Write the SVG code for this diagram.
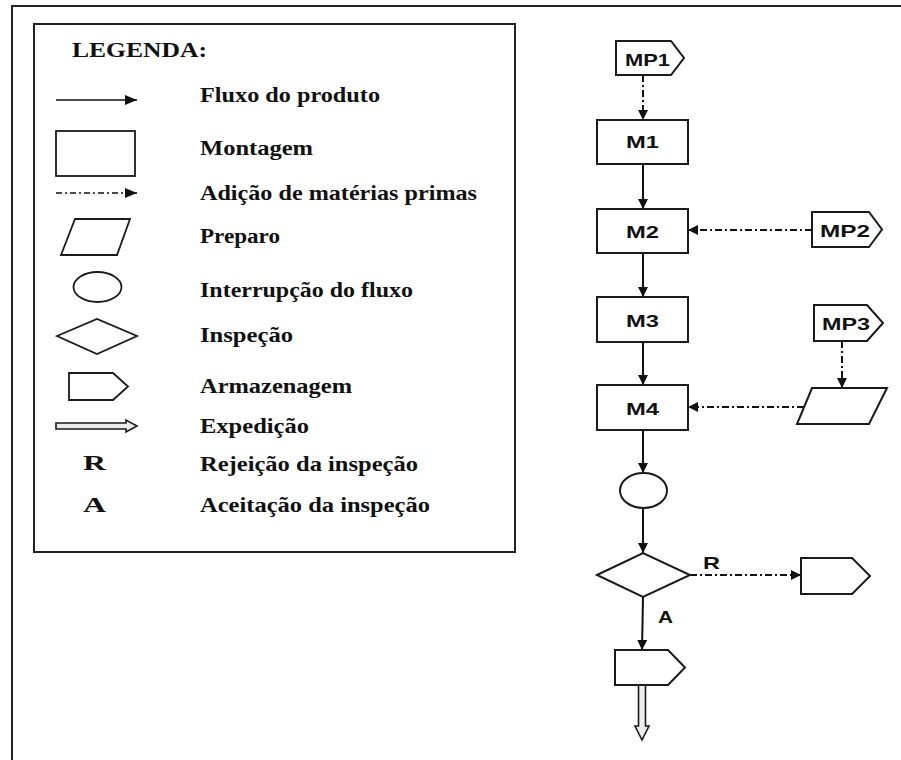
<svg xmlns="http://www.w3.org/2000/svg" width="901" height="760" viewBox="0 0 901 760">
<style>
.frame{fill:none;stroke:#222;stroke-width:2}
.shape{fill:#fff;stroke:#1a1a1a;stroke-width:2}
.lshape{fill:#fff;stroke:#1a1a1a;stroke-width:1.8}
.solid{fill:none;stroke:#111;stroke-width:2}
.dash{fill:none;stroke:#111;stroke-width:2;stroke-dasharray:7 3 2 3}
.lsolid{fill:none;stroke:#111;stroke-width:1.7}
.ldash{fill:none;stroke:#111;stroke-width:1.5;stroke-dasharray:6 3 2 3}
.exp{fill:#ececec;stroke:#1a1a1a;stroke-width:1.6}
.leg{font-family:"Liberation Serif","Times New Roman",serif;font-weight:bold;font-size:22px;fill:#111}
.lbl{font-family:"Liberation Sans",Arial,sans-serif;font-weight:bold;font-size:17px;fill:#111}
</style>
<defs>
<marker id="ah" viewBox="0 0 10 10" refX="10" refY="5" markerWidth="10" markerHeight="10" markerUnits="userSpaceOnUse" orient="auto">
<path d="M0,0 L10,5 L0,10 z" fill="#111"/>
</marker>
<marker id="ahl" viewBox="0 0 12 10" refX="12" refY="5" markerWidth="13" markerHeight="10" markerUnits="userSpaceOnUse" orient="auto">
<path d="M0,0 L12,5 L0,10 z" fill="#111"/>
</marker>
</defs>
<rect width="901" height="760" fill="#fff"/>
<path class="frame" d="M12,762 V6 H903"/>

<g id="legend">
<rect class="frame" x="34" y="24" width="481" height="528"/>
<text class="leg" x="72" y="57" textLength="135" lengthAdjust="spacingAndGlyphs">LEGENDA:</text>
<line class="lsolid" x1="56" y1="100" x2="137" y2="100" marker-end="url(#ahl)"/>
<text class="leg" x="200" y="102" textLength="180" lengthAdjust="spacingAndGlyphs">Fluxo do produto</text>
<rect class="lshape" x="56" y="131" width="79" height="45"/>
<text class="leg" x="200" y="155" textLength="113" lengthAdjust="spacingAndGlyphs">Montagem</text>
<line class="ldash" x1="56" y1="193" x2="137" y2="193" marker-end="url(#ahl)"/>
<text class="leg" x="200" y="200" textLength="277" lengthAdjust="spacingAndGlyphs">Adição de matérias primas</text>
<polygon class="lshape" points="75,219 130,219 117,255 61,255"/>
<text class="leg" x="200" y="243" textLength="80" lengthAdjust="spacingAndGlyphs">Preparo</text>
<ellipse class="lshape" cx="97.5" cy="287" rx="24" ry="15"/>
<text class="leg" x="200" y="297" textLength="213" lengthAdjust="spacingAndGlyphs">Interrupção do fluxo</text>
<polygon class="lshape" points="57,336 97,319 137,336 97,354"/>
<text class="leg" x="200" y="342" textLength="93" lengthAdjust="spacingAndGlyphs">Inspeção</text>
<path class="lshape" d="M69,373 H113 L128,386.5 L113,400 H69 Z"/>
<text class="leg" x="200" y="393" textLength="152" lengthAdjust="spacingAndGlyphs">Armazenagem</text>
<polygon class="exp" points="56,423 126,423 126,420 137,426 126,432 126,429 56,429"/>
<text class="leg" x="200" y="433" textLength="109" lengthAdjust="spacingAndGlyphs">Expedição</text>
<text class="leg" x="83" y="470" font-size="23" textLength="23" lengthAdjust="spacingAndGlyphs">R</text>
<text class="leg" x="200" y="471" textLength="218" lengthAdjust="spacingAndGlyphs">Rejeição da inspeção</text>
<text class="leg" x="83" y="512" font-size="23" textLength="23" lengthAdjust="spacingAndGlyphs">A</text>
<text class="leg" x="200" y="512" textLength="230" lengthAdjust="spacingAndGlyphs">Aceitação da inspeção</text>
</g>

<g id="connectors">
<line class="dash" x1="643" y1="75" x2="643" y2="120" marker-end="url(#ah)"/>
<line class="solid" x1="643" y1="164" x2="643" y2="209" marker-end="url(#ah)"/>
<line class="dash" x1="812" y1="230" x2="688" y2="230" marker-end="url(#ah)"/>
<line class="solid" x1="643" y1="253" x2="643" y2="297" marker-end="url(#ah)"/>
<line class="solid" x1="643" y1="342" x2="643" y2="385" marker-end="url(#ah)"/>
<line class="dash" x1="842" y1="341" x2="842" y2="388" marker-end="url(#ah)"/>
<line class="dash" x1="804" y1="407" x2="688" y2="407" marker-end="url(#ah)"/>
<line class="solid" x1="643" y1="430" x2="643" y2="473" marker-end="url(#ah)"/>
<line class="solid" x1="643" y1="508" x2="643" y2="553" marker-end="url(#ah)"/>
<line class="dash" x1="690" y1="575" x2="801" y2="575" marker-end="url(#ah)"/>
<line class="solid" x1="643" y1="597" x2="642" y2="650" marker-end="url(#ah)"/>
<polygon class="exp" points="638.5,685 638.5,726 635,726 642,740 649,726 645.5,726 645.5,685"/>
<text class="lbl" x="703" y="569" textLength="17" lengthAdjust="spacingAndGlyphs">R</text>
<text class="lbl" x="658" y="623" textLength="15" lengthAdjust="spacingAndGlyphs">A</text>
</g>

<g id="MP1">
<path class="shape" d="M616,41 H671 L684,58 L671,75 H616 Z"/>
<text class="lbl" x="625" y="66" textLength="45" lengthAdjust="spacingAndGlyphs">MP1</text>
</g>
<g id="M1">
<rect class="shape" x="597" y="120" width="91" height="44"/>
<text class="lbl" x="626" y="148" textLength="33" lengthAdjust="spacingAndGlyphs">M1</text>
</g>
<g id="M2">
<rect class="shape" x="597" y="209" width="91" height="44"/>
<text class="lbl" x="626" y="238" textLength="33" lengthAdjust="spacingAndGlyphs">M2</text>
</g>
<g id="MP2">
<path class="shape" d="M812,212 H869 L882,229.5 L869,247 H812 Z"/>
<text class="lbl" x="820" y="237" textLength="50" lengthAdjust="spacingAndGlyphs">MP2</text>
</g>
<g id="M3">
<rect class="shape" x="597" y="297" width="91" height="45"/>
<text class="lbl" x="626" y="327" textLength="33" lengthAdjust="spacingAndGlyphs">M3</text>
</g>
<g id="MP3">
<path class="shape" d="M814,305 H867 L883,323 L867,341 H814 Z"/>
<text class="lbl" x="822" y="330" textLength="48" lengthAdjust="spacingAndGlyphs">MP3</text>
</g>
<g id="preparo">
<polygon class="shape" points="812,388 887,388 869,424 797,424"/>
</g>
<g id="M4">
<rect class="shape" x="597" y="385" width="91" height="45"/>
<text class="lbl" x="626" y="415" textLength="33" lengthAdjust="spacingAndGlyphs">M4</text>
</g>
<g id="interrupcao">
<ellipse class="shape" cx="643.5" cy="490.5" rx="23.5" ry="17.5"/>
</g>
<g id="inspecao">
<polygon class="shape" points="597,575 643,553 690,575 643,597"/>
</g>
<g id="armazenagem-r">
<path class="shape" d="M801,558 H852 L870,576 L852,594 H801 Z"/>
</g>
<g id="armazenagem-a">
<path class="shape" d="M615,650 H668 L685,667.5 L668,685 H615 Z"/>
</g>
</svg>
